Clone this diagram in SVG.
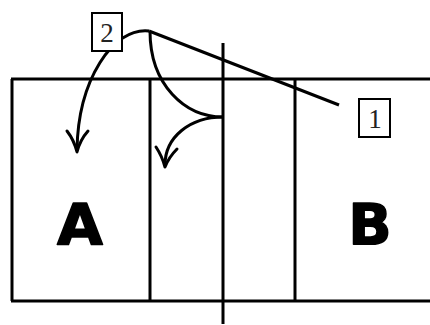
<svg xmlns="http://www.w3.org/2000/svg" width="430" height="325" viewBox="0 0 430 325">
<style>
.ln{stroke:#000;stroke-width:3;fill:none;stroke-linecap:butt}
.ah{stroke:#000;stroke-width:3;fill:none;stroke-linecap:round;stroke-linejoin:round}
.box{stroke:#000;stroke-width:2;fill:#fff}
.num{font-family:"Liberation Serif","DejaVu Serif",serif;font-size:27px;text-anchor:middle;fill:#222}
.big{font-family:"DejaVu Sans","Liberation Sans",sans-serif;font-weight:bold;font-size:57px;text-anchor:middle;fill:#000;stroke:#000;stroke-width:1.5;stroke-linejoin:round}
</style>
<rect width="430" height="325" fill="#fff"/>
<g id="frame">
<line class="ln" x1="11" y1="79" x2="430" y2="79"/>
<line class="ln" x1="11" y1="301" x2="430" y2="301"/>
<line class="ln" x1="12" y1="79" x2="12" y2="301"/>
<line class="ln" x1="150" y1="79" x2="150" y2="301"/>
<line class="ln" x1="295" y1="79" x2="295" y2="301"/>
<line class="ln" x1="223" y1="43" x2="223" y2="324"/>
</g>
<g id="regionA"><text class="big" transform="translate(80,245) scale(1.04,1)" x="0" y="0">A</text></g>
<g id="regionB"><text class="big" x="370" y="245">B</text></g>
<g id="connectors">
<line class="ln" x1="149" y1="31" x2="339" y2="105"/>
<path class="ln" d="M149,31 C113,27 78,80 77,150"/>
<path class="ah" d="M67,131 Q74,140 77,152 Q80,140 88,131"/>
<path class="ln" d="M150,31 C150,85 185,117 223,117"/>
<path class="ln" d="M223,117 C190,117 165,137 165,165"/>
<path class="ah" d="M156,147 Q162,156 165,167 Q169,157 177,149"/>
</g>
<g id="label2"><rect class="box" x="92" y="13" width="30" height="38"/><text class="num" x="107" y="42">2</text></g>
<g id="label1"><rect class="box" x="359" y="99" width="31" height="38"/><text class="num" x="375" y="128">1</text></g>
</svg>
